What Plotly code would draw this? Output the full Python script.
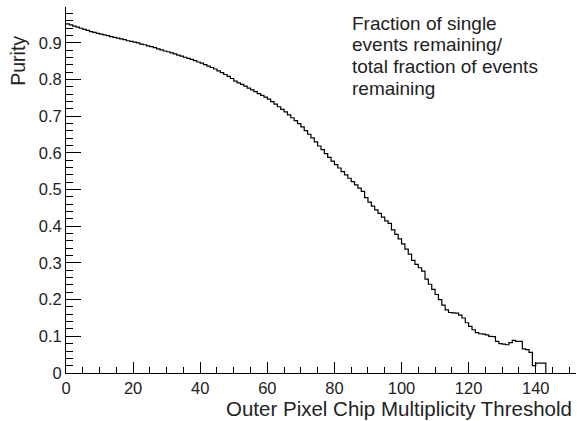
import plotly.graph_objects as go

# Bin lower edges (threshold values) and purity per bin
thresholds = list(range(0, 143))
purity = [
    0.952, 0.949, 0.946, 0.943, 0.940, 0.937, 0.934, 0.931, 0.929, 0.926,
    0.924, 0.922, 0.920, 0.917, 0.915, 0.913, 0.911, 0.909, 0.906, 0.904,
    0.902, 0.900, 0.897, 0.895, 0.892, 0.890, 0.887, 0.884, 0.881, 0.878,
    0.876, 0.873, 0.870, 0.867, 0.864, 0.861, 0.858, 0.855, 0.852, 0.848,
    0.845, 0.841, 0.837, 0.833, 0.829, 0.824, 0.819, 0.814, 0.809, 0.803,
    0.796, 0.791, 0.787, 0.782, 0.777, 0.772, 0.767, 0.762, 0.757, 0.752,
    0.747, 0.740, 0.733, 0.726, 0.719, 0.712, 0.704, 0.696, 0.688, 0.680,
    0.671, 0.661, 0.651, 0.641, 0.630, 0.619, 0.609, 0.598, 0.588, 0.578,
    0.568, 0.559, 0.549, 0.540, 0.531, 0.522, 0.513, 0.504, 0.495, 0.478,
    0.466, 0.455, 0.445, 0.435, 0.425, 0.415, 0.408, 0.390, 0.378, 0.366,
    0.352, 0.338, 0.324, 0.307, 0.296, 0.287, 0.278, 0.256, 0.242, 0.228,
    0.214, 0.200, 0.185, 0.172, 0.165, 0.164, 0.163, 0.158, 0.150, 0.137,
    0.127, 0.118, 0.110, 0.107, 0.106, 0.104, 0.100, 0.099, 0.086, 0.080,
    0.079, 0.077, 0.083, 0.089, 0.086, 0.086, 0.066, 0.064, 0.056, 0.020,
    0.027, 0.027, 0.027,
]
bin_width = 1

x_ticks = [0, 20, 40, 60, 80, 100, 120, 140]
y_ticks = [0, 0.1, 0.2, 0.3, 0.4, 0.5, 0.6, 0.7, 0.8, 0.9]
y_tick_text = ["0", "0.1", "0.2", "0.3", "0.4", "0.5", "0.6", "0.7", "0.8", "0.9"]

x_title = "Outer Pixel Chip Multiplicity Threshold"
y_title = "Purity"
note_lines = ["Fraction of single", "events remaining/", "total fraction of events", "remaining"]

# step outline: each bin drawn from its lower edge, closing at the last upper edge
step_x = thresholds + [thresholds[-1] + bin_width]
step_y = purity + [0]

FONT = "Liberation Sans, Arial, Helvetica, sans-serif"
TXT = "#222222"

fig = go.Figure()
fig.add_trace(go.Scatter(
    x=step_x, y=step_y, mode="lines", line=dict(shape="hv", color="black", width=1.2),
    showlegend=False, hoverinfo="skip",
))

fig.update_layout(
    width=577, height=421,
    margin=dict(l=66, r=1, t=7, b=48),
    paper_bgcolor="white", plot_bgcolor="white",
    font=dict(family=FONT, color=TXT, size=16),
    xaxis=dict(
        range=[0, 152], tickvals=x_ticks, ticks="inside", ticklen=11, tickwidth=1,
        tickcolor="black", showline=True, linecolor="black", linewidth=1,
        showgrid=False, zeroline=False, tickfont=dict(size=16.5), automargin=False,
        minor=dict(dtick=5, tick0=0, ticks="inside", ticklen=6, tickcolor="black", showgrid=False),
    ),
    yaxis=dict(
        range=[0, 0.998], tickvals=y_ticks, ticktext=y_tick_text, ticks="inside", ticklen=15,
        tickwidth=1, tickcolor="black", showline=True, linecolor="black", linewidth=1,
        showgrid=False, zeroline=False, tickfont=dict(size=16.5), automargin=False,
        minor=dict(dtick=0.02, tick0=0, ticks="inside", ticklen=7, tickcolor="black", showgrid=False),
    ),
)

fig.add_annotation(
    text=y_title, xref="paper", yref="paper", x=-0.093, y=0.852,
    xanchor="center", yanchor="middle", textangle=-90, showarrow=False,
    font=dict(size=19.5, family=FONT, color=TXT),
)
fig.add_annotation(
    text=x_title, xref="paper", yref="paper", x=0.996, y=-0.098,
    xanchor="right", yanchor="middle", showarrow=False,
    font=dict(size=20.5, family=FONT, color=TXT),
)

# note text, one annotation per line (line centres in page pixels)
note_centres_px = [23, 44.7, 66.4, 88]
for line, cy in zip(note_lines, note_centres_px):
    fig.add_annotation(
        text=line, xref="paper", yref="paper", x=0.556, y=(373 - cy) / 366,
        xanchor="left", yanchor="middle", align="left", showarrow=False,
        font=dict(size=19, family=FONT, color=TXT),
    )

fig.write_html(
    "out.html",
    config={"displayModeBar": False},
    post_script="document.body.style.margin='0';document.body.style.overflow='hidden';",
)
